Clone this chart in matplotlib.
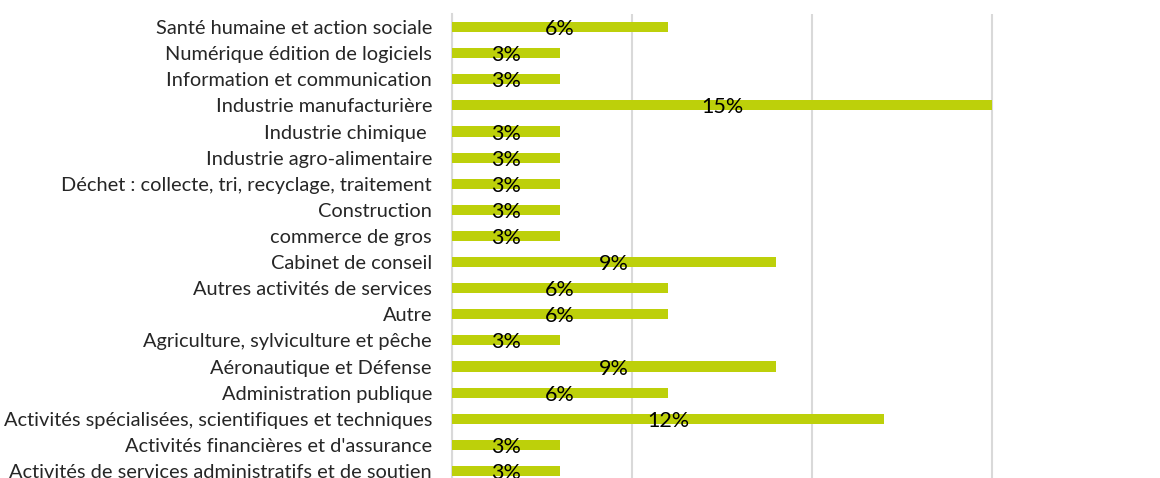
import matplotlib
matplotlib.use("Agg")
import matplotlib.pyplot as plt
from matplotlib.ticker import MultipleLocator

categories = [
    "Santé humaine et action sociale",
    "Numérique édition de logiciels",
    "Information et communication",
    "Industrie manufacturière",
    "Industrie chimique ",
    "Industrie agro-alimentaire",
    "Déchet : collecte, tri, recyclage, traitement",
    "Construction",
    "commerce de gros",
    "Cabinet de conseil",
    "Autres activités de services",
    "Autre",
    "Agriculture, sylviculture et pêche",
    "Aéronautique et Défense",
    "Administration publique",
    "Activités spécialisées, scientifiques et techniques",
    "Activités financières et d'assurance",
    "Activités de services administratifs et de soutien",
]
values = [6, 3, 3, 15, 3, 3, 3, 3, 3, 9, 6, 6, 3, 9, 6, 12, 3, 3]
value_labels = [f"{v}%" for v in values]

plt.rcParams['font.family'] = ['Lato', 'DejaVu Sans']

fig = plt.figure(figsize=(11.6, 4.78), dpi=100)
W, H = 1160, 478
left, right = 452, 1172
top, bottom = 14, 484
ax = fig.add_axes([left / W, 1 - bottom / H, (right - left) / W, (bottom - top) / H])

pos = list(range(len(categories)))
ax.barh(pos, values, height=0.39, color='#bdd00a', zorder=3)
for p, v, lab in zip(pos, values, value_labels):
    ax.text(v / 2, p + 0.08, lab, ha='center', va='center', fontsize=15.5,
            color='black', zorder=4)

ax.set_ylim(len(categories) - 0.5, -0.5)
ax.set_xlim(0, 20)
ax.set_yticks(pos)
ax.set_yticklabels(categories, fontsize=14.4, color='#262626')
ax.tick_params(axis='y', length=0, pad=14.4)
ax.tick_params(axis='x', length=0, labelbottom=False)
ax.xaxis.set_major_locator(MultipleLocator(5))
ax.grid(axis='x', color='#d9d9d9', linewidth=1.5, zorder=0)
for s in ['top', 'right', 'bottom']:
    ax.spines[s].set_visible(False)
ax.spines['left'].set_color('#d9d9d9')
ax.spines['left'].set_linewidth(1.5)

fig.savefig("out.png", dpi=100)
